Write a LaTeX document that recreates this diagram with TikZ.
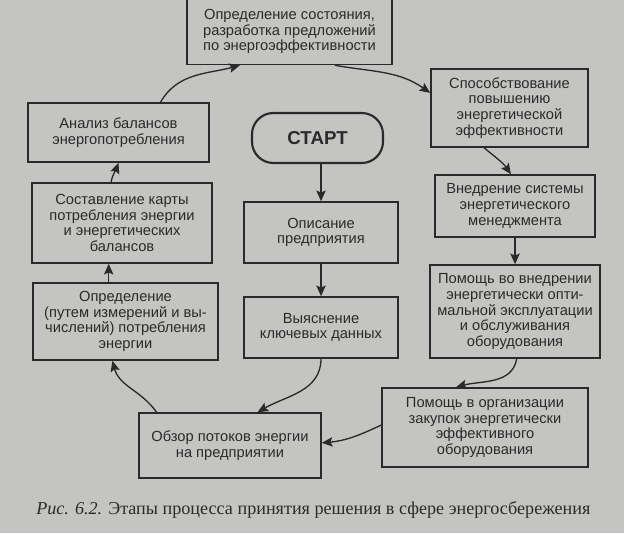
\documentclass[tikz,border=0pt]{standalone}
\usepackage{fontspec}
\setmainfont{Liberation Sans}
\newfontfamily\capfont{Liberation Serif}
\usetikzlibrary{arrows.meta,calc}
\definecolor{page}{RGB}{196,196,194}
\definecolor{ink}{RGB}{42,42,42}
\begin{document}
\begin{tikzpicture}[x=0.75pt,y=-0.75pt,
  box/.style={draw=ink, line width=1.2pt, fill=page, text=ink, align=center,
    font=\fontsize{11}{11.8}\selectfont, inner sep=2pt},
  wh/.style 2 args={minimum width=#1*0.75pt, minimum height=#2*0.75pt},
  arr/.style={draw=ink, line width=1pt, -{Stealth[length=8pt,width=7pt,inset=1.5pt]}}]
\fill[page] (0,0) rectangle (624,533);
\useasboundingbox (0,0) rectangle (624,533);

\node[box, wh={205}{66}] (b1) at (289.5,31.5) {Определение состояния,\\разработка предложений\\по энергоэффективности};
\node[box, wh={157}{78}] (b2) at (509.5,108) {Способствование\\повышению\\энергетической\\эффективности};
\node[box, wh={160}{62}] (b3) at (515,206) {Внедрение системы\\энергетического\\менеджмента};
\node[box, wh={170}{93}] (b4) at (515,311.5) {Помощь во внедрении\\энергетически опти-\\мальной эксплуатации\\и обслуживания\\оборудования};
\node[box, wh={206}{79}] (b5) at (485,427.5) {Помощь в организации\\закупок энергетически\\эффективного\\оборудования};
\node[box, wh={182}{65}] (b6) at (230,445.5) {Обзор потоков энергии\\на предприятии};
\node[box, wh={181}{59}] (b7) at (118.5,132.5) {Анализ балансов\\энергопотребления};
\node[box, wh={180}{80}] (b8) at (122,223) {Составление карты\\потребления энергии\\и энергетических\\балансов};
\node[box, wh={185}{77}] (b9) at (125.5,321.5) {Определение\\(путем измерений и вы-\\числений) потребления\\энергии};
\node[box, wh={131}{50}, rounded corners=16pt, line width=1.6pt,
  font=\fontsize{14}{16}\selectfont\bfseries] (st) at (317.5,138) {СТАРТ};
\node[box, wh={154}{61}] (op) at (321,232.5) {Описание\\предприятия};
\node[box, wh={154}{61}] (vy) at (321,327.5) {Выяснение\\ключевых данных};

\node[anchor=base west, inner sep=0pt, text=ink,
  font=\capfont\fontsize{13.6}{16}\selectfont] (cap) at (36,514)
  {\textit{Рис. 6.2.} Этапы процесса принятия решения в сфере энергосбережения};

% connectors
\draw[arr] ($(b7.north west)!0.73!(b7.north east)$) to[out=60,in=195]
  ($(b1.south west)!0.26!(b1.south east)$);
\draw[arr] ($(b1.south west)!0.72!(b1.south east)$) to[out=-10,in=145]
  ($(b2.north west)!0.31!(b2.south west)$);
\draw[arr] ($(b2.south west)!0.34!(b2.south east)$) to[out=-40,in=125]
  ($(b3.north west)!0.475!(b3.north east)$);
\draw[arr] (b3.south) -- (b4.north);
\draw[arr] ($(b4.south west)!0.51!(b4.south east)$) to[out=-100,in=15]
  ($(b5.north west)!0.36!(b5.north east)$);
\draw[arr] ($(b5.north west)!0.47!(b5.south west)$) to[out=205,in=5]
  ($(b6.north east)!0.46!(b6.south east)$);
\draw[arr] (vy.south) to[out=-90,in=30]
  ($(b6.north west)!0.65!(b6.north east)$);
\draw[arr] ($(b6.north west)!0.1!(b6.north east)$) to[out=125,in=-75]
  ($(b9.south west)!0.43!(b9.south east)$);
\coordinate (p9) at ($(b9.north west)!0.41!(b9.north east)$);
\draw[arr] (p9) -- (p9 |- b8.south);
\draw[arr] ($(b8.north west)!0.44!(b8.north east)$) to[out=80,in=-110]
  ($(b7.south west)!0.5!(b7.south east)$);
\draw[arr] (op.north |- st.south) -- (op.north);
\draw[arr] (op.south) -- (vy.north);
\end{tikzpicture}
\end{document}
